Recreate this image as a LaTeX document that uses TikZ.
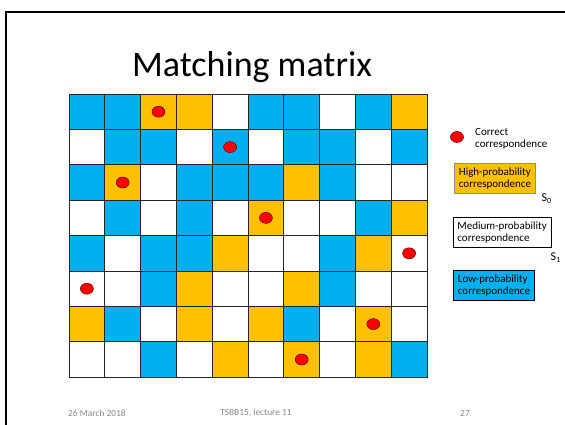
\documentclass[tikz,border=0pt]{standalone}
\usepackage{fontspec}
\setmainfont{Carlito}
\usetikzlibrary{positioning,shapes.geometric}
\definecolor{cellB}{HTML}{00B0F0}
\definecolor{cellO}{HTML}{FFC000}
\definecolor{cellW}{HTML}{FFFFFF}
\definecolor{hitred}{HTML}{FF0000}
\definecolor{footgrey}{RGB}{137,137,137}
\tikzset{
  cell/.style={
    draw=black!85,
    line width=0.9pt,
    minimum width=35.8pt,
    minimum height=35.4pt,
    inner sep=0pt,
    outer sep=0pt
  },
  hit/.style={
    ellipse,
    draw=black!60!red,
    line width=0.5pt,
    fill=hitred,
    minimum width=13pt,
    minimum height=11pt,
    inner sep=0pt
  },
  keytext/.style={align=left, font=\fontsize{11}{12.5}\selectfont, inner sep=0pt},
  keybox/.style={keytext, draw, line width=0.8pt, inner xsep=4.5pt, inner ysep=4pt, anchor=north west},
  slabel/.style={font=\fontsize{12}{14}\selectfont, inner sep=0pt},
  footer/.style={font=\fontsize{9.4}{11}\selectfont, text=footgrey, inner sep=0pt},
}

\begin{document}
\begin{tikzpicture}[x=1pt, y=-1pt]
\useasboundingbox (0,0) rectangle (565,425);

% Slide frame
\draw[line width=2pt] (6,425) -- (6,12) -- (566,12);

% Title
\node[anchor=base, inner sep=0pt, font=\fontsize{36}{40}\selectfont] (title) at (252,77) {Matching matrix};

% Grid of correspondences
\foreach \row [count=\r] in {
  {B,B,O,O,W,B,B,W,B,O},
  {W,B,B,W,B,W,B,B,W,B},
  {B,O,W,B,B,B,O,B,W,W},
  {W,B,W,B,W,O,W,W,B,O},
  {B,W,B,B,O,W,W,B,O,W},
  {W,W,B,O,W,W,O,B,W,W},
  {O,B,W,O,W,O,B,W,O,W},
  {W,W,B,W,O,W,O,W,O,B}} {
  \foreach \k [count=\c] in \row {
    \node[cell, fill=cell\k] (c-\r-\c) at ({69+(\c-0.5)*35.8},{94+(\r-0.5)*35.4}) {};
  }
}

% Correct correspondences
\foreach \r/\c in {1/3,2/5,3/2,4/6,5/10,6/1,7/9,8/7}
  \node[hit] (h-\r-\c) at (c-\r-\c) {};

% Legend
\node[hit] (keydot) at (457,137) {};
\node[keytext, anchor=west] (keyhit) at (475,139) {Correct\\correspondence};
\node[keybox, fill=cellO, draw=black!45] (high) at (454,163) {High-probability\\correspondence};
\node[keybox, fill=white] (medium) at (452.5,217) {Medium-probability\\correspondence};
\node[keybox, fill=cellB] (low) at (453,270) {Low-probability\\correspondence};
\node[slabel, anchor=north west] (s0) at (541.5,194) {S\textsubscript{0}};
\node[slabel, anchor=north west] (s1) at (550.5,252.5) {S\textsubscript{1}};

% Footer
\node[footer, anchor=west] (date) at (68,413) {26 March 2018};
\node[footer] (course) at (256,413) {TSBB15, lecture 11};
\node[footer] (page) at (465,413) {27};

\end{tikzpicture}
\end{document}
